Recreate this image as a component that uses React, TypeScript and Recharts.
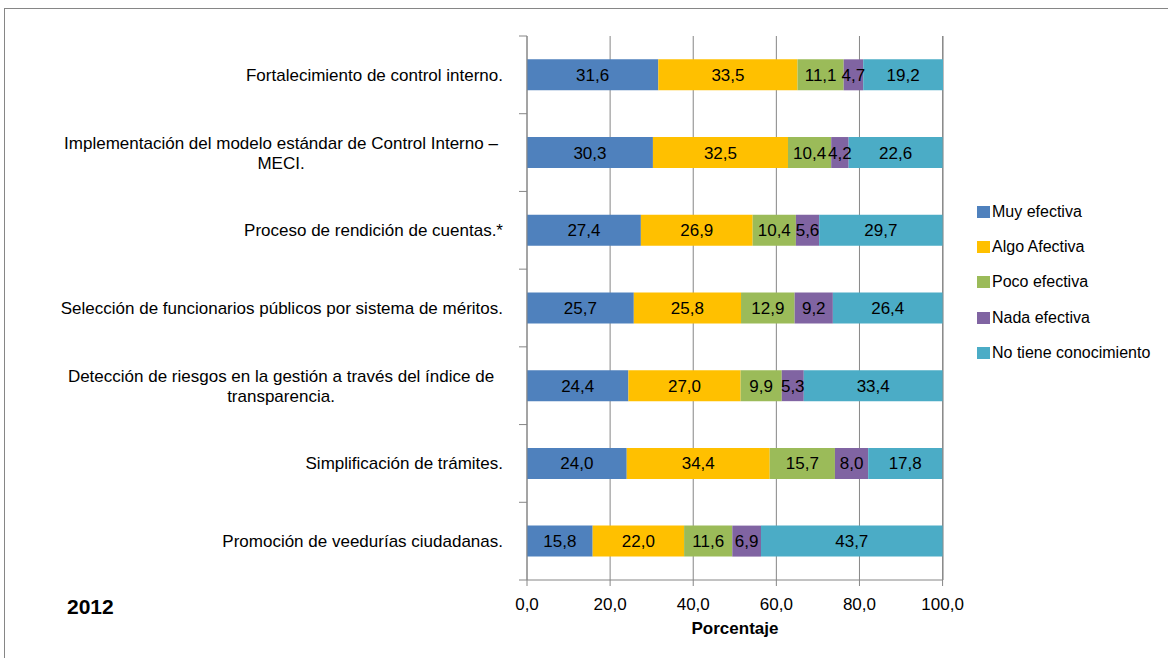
import { BarChart, Bar, XAxis, YAxis, CartesianGrid, LabelList } from "recharts";

const categories = [
  "Fortalecimiento de control interno.",
  "Implementación del modelo estándar de Control Interno –\nMECI.",
  "Proceso de rendición  de cuentas.*",
  "Selección de funcionarios públicos  por sistema de méritos.",
  "Detección de riesgos en la gestión a través del índice de\ntransparencia.",
  "Simplificación  de trámites.",
  "Promoción de veedurías  ciudadanas.",
];

const muyEfectiva = [31.6, 30.3, 27.4, 25.7, 24.4, 24.0, 15.8];
const algoAfectiva = [33.5, 32.5, 26.9, 25.8, 27.0, 34.4, 22.0];
const pocoEfectiva = [11.1, 10.4, 10.4, 12.9, 9.9, 15.7, 11.6];
const nadaEfectiva = [4.7, 4.2, 5.6, 9.2, 5.3, 8.0, 6.9];
const noTieneConocimiento = [19.2, 22.6, 29.7, 26.4, 33.4, 17.8, 43.7];

const xTicks = [0, 20, 40, 60, 80, 100];

const series = [
  { key: "muy", name: "Muy efectiva", color: "#4F81BD", values: muyEfectiva },
  { key: "algo", name: "Algo Afectiva", color: "#FFC000", values: algoAfectiva },
  { key: "poco", name: "Poco efectiva", color: "#9BBB59", values: pocoEfectiva },
  { key: "nada", name: "Nada efectiva", color: "#8064A2", values: nadaEfectiva },
  { key: "no", name: "No tiene conocimiento", color: "#4BACC6", values: noTieneConocimiento },
];

const data = categories.map((name, i) => {
  const row: Record<string, string | number> = { name };
  series.forEach((s) => (row[s.key] = s.values[i]));
  return row;
});

const FONT = "'Liberation Sans', Arial, sans-serif";
const AXIS = "#868686";
const W = 1168;
const H = 658;
const MARGIN = { top: 36, right: 225, left: 0, bottom: 18 };
const X_AXIS_H = 60;
const Y_AXIS_W = 527;
const GAP = 24;
const TICK_LEN = 8;
const PLOT_H = H - MARGIN.top - MARGIN.bottom - X_AXIS_H;

const fmt = (v: number | string) => Number(v).toFixed(1).replace(".", ",");

function YTick(props: any) {
  const { x, y, payload, index } = props;
  const lines: string[] = String(payload.value).split("\n");
  const half =
    typeof payload.offset === "number" && payload.offset > 0
      ? payload.offset
      : PLOT_H / categories.length / 2;
  const axisX = x + GAP;
  const lh = 20;
  return (
    <g>
      <line x1={axisX - TICK_LEN} x2={axisX} y1={y - half} y2={y - half} stroke={AXIS} />
      {index === categories.length - 1 && (
        <line x1={axisX - TICK_LEN} x2={axisX} y1={y + half} y2={y + half} stroke={AXIS} />
      )}
      {lines.length === 1 ? (
        <text x={x} y={y} dy="0.35em" textAnchor="end" fontSize={17} fill="#000" fontFamily={FONT}>
          {lines[0]}
        </text>
      ) : (
        lines.map((l, i) => (
          <text
            key={i}
            x={x - 222}
            y={y + (i - (lines.length - 1) / 2) * lh}
            dy="0.35em"
            textAnchor="middle"
            fontSize={17}
            fill="#000"
            fontFamily={FONT}
          >
            {l}
          </text>
        ))
      )}
    </g>
  );
}

function ChartLegend() {
  return (
    <div
      style={{
        position: "absolute",
        left: 977,
        top: 194,
        fontFamily: FONT,
        fontSize: 16,
        color: "#000",
      }}
    >
      {series.map((s) => (
        <div key={s.key} style={{ display: "flex", alignItems: "center", height: 35.3 }}>
          <span
            style={{ display: "inline-block", width: 13, height: 12, background: s.color, marginRight: 2 }}
          />
          <span style={{ whiteSpace: "nowrap" }}>{s.name}</span>
        </div>
      ))}
    </div>
  );
}

export default function App() {
  return (
    <div
      style={{
        position: "absolute",
        left: 0,
        top: 0,
        width: W,
        height: H,
        overflow: "hidden",
        background: "#fff",
        fontFamily: FONT,
      }}
    >
      <div style={{ position: "absolute", left: 0, top: -14, fontSize: 16, whiteSpace: "nowrap" }}>
        Fuente: DANE. EDI 2011
      </div>
      <div
        style={{
          position: "absolute",
          left: 4,
          top: 8,
          width: 1300,
          height: 800,
          border: `1px solid ${AXIS}`,
        }}
      />
      <div style={{ position: "absolute", left: 0, top: 0 }}>
        <BarChart width={W} height={H} data={data} layout="vertical" margin={MARGIN} barCategoryGap="30%">
          <CartesianGrid horizontal={false} stroke={AXIS} />
          <XAxis
            type="number"
            domain={[0, 100]}
            ticks={xTicks}
            tickFormatter={fmt}
            height={X_AXIS_H}
            stroke={AXIS}
            tickSize={6}
            tickMargin={12}
            tick={{ fill: "#000", fontSize: 17, fontFamily: FONT }}
            label={{
              value: "Porcentaje",
              position: "insideBottom",
              offset: 6,
              fill: "#000",
              fontSize: 17,
              fontWeight: "bold",
              fontFamily: FONT,
            }}
          />
          <YAxis
            type="category"
            dataKey="name"
            width={Y_AXIS_W}
            stroke={AXIS}
            tickLine={false}
            tickSize={0}
            tickMargin={GAP}
            interval={0}
            tick={<YTick />}
          />
          {series.map((s) => (
            <Bar key={s.key} dataKey={s.key} name={s.name} stackId="a" fill={s.color} isAnimationActive={false}>
              <LabelList
                dataKey={s.key}
                position="center"
                formatter={fmt}
                fill="#000"
                fontSize={17}
                fontFamily={FONT}
              />
            </Bar>
          ))}
        </BarChart>
      </div>
      <ChartLegend />
      <div
        style={{
          position: "absolute",
          left: 67,
          top: 595,
          fontSize: 21,
          fontWeight: "bold",
          fontFamily: FONT,
        }}
      >
        2012
      </div>
    </div>
  );
}
